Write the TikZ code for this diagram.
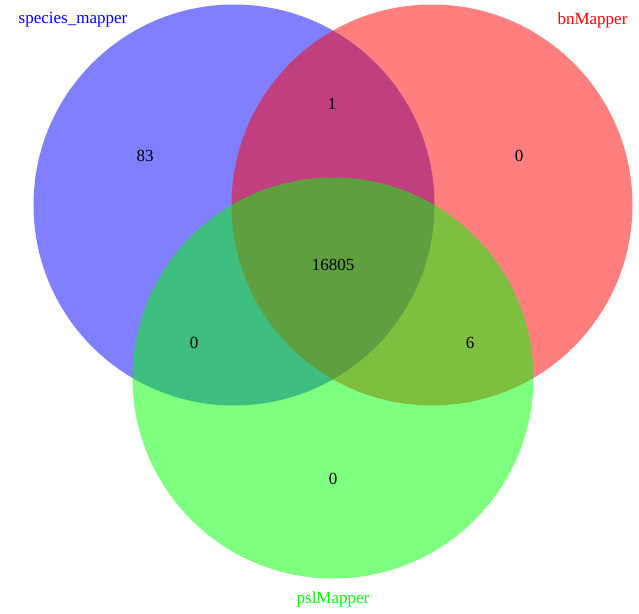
\documentclass[tikz,border=0pt]{standalone}
\usepackage{fontspec}
\setmainfont{Liberation Serif}
\begin{document}
\begin{tikzpicture}[x=1pt,y=-1pt,
  setcirc/.style={fill opacity=0.5},
  num/.style={font=\fontsize{17}{19}\selectfont, text=black, inner sep=0pt},
  lab/.style={font=\fontsize{17}{19}\selectfont, inner sep=0pt}]
\useasboundingbox (0,0) rectangle (639,613);
\fill[white] (0,0) rectangle (639,613);
\begin{scope}
\clip (0,0) rectangle (639,613);
\fill[blue, setcirc] (234,205) circle[radius=200.5];
\fill[red, setcirc] (432,205) circle[radius=200.5];
\fill[green, setcirc] (333,378) circle[radius=200.5];
\node[lab, text=blue, anchor=west] (lblue) at (18.5,20) {species\_mapper};
\end{scope}
\node[lab, text=red] (lred) at (592.5,20) {bnMapper};
\node[lab, text=green] (lgreen) at (333,599) {pslMapper};
\node[num] (nb) at (145,156) {83};
\node[num] (nbr) at (332,104) {1};
\node[num] (nr) at (519,156) {0};
\node[num] (nall) at (333,265) {16805};
\node[num] (nbg) at (194,343) {0};
\node[num] (nrg) at (470,343) {6};
\node[num] (ng) at (333,479) {0};
\end{tikzpicture}
\end{document}
